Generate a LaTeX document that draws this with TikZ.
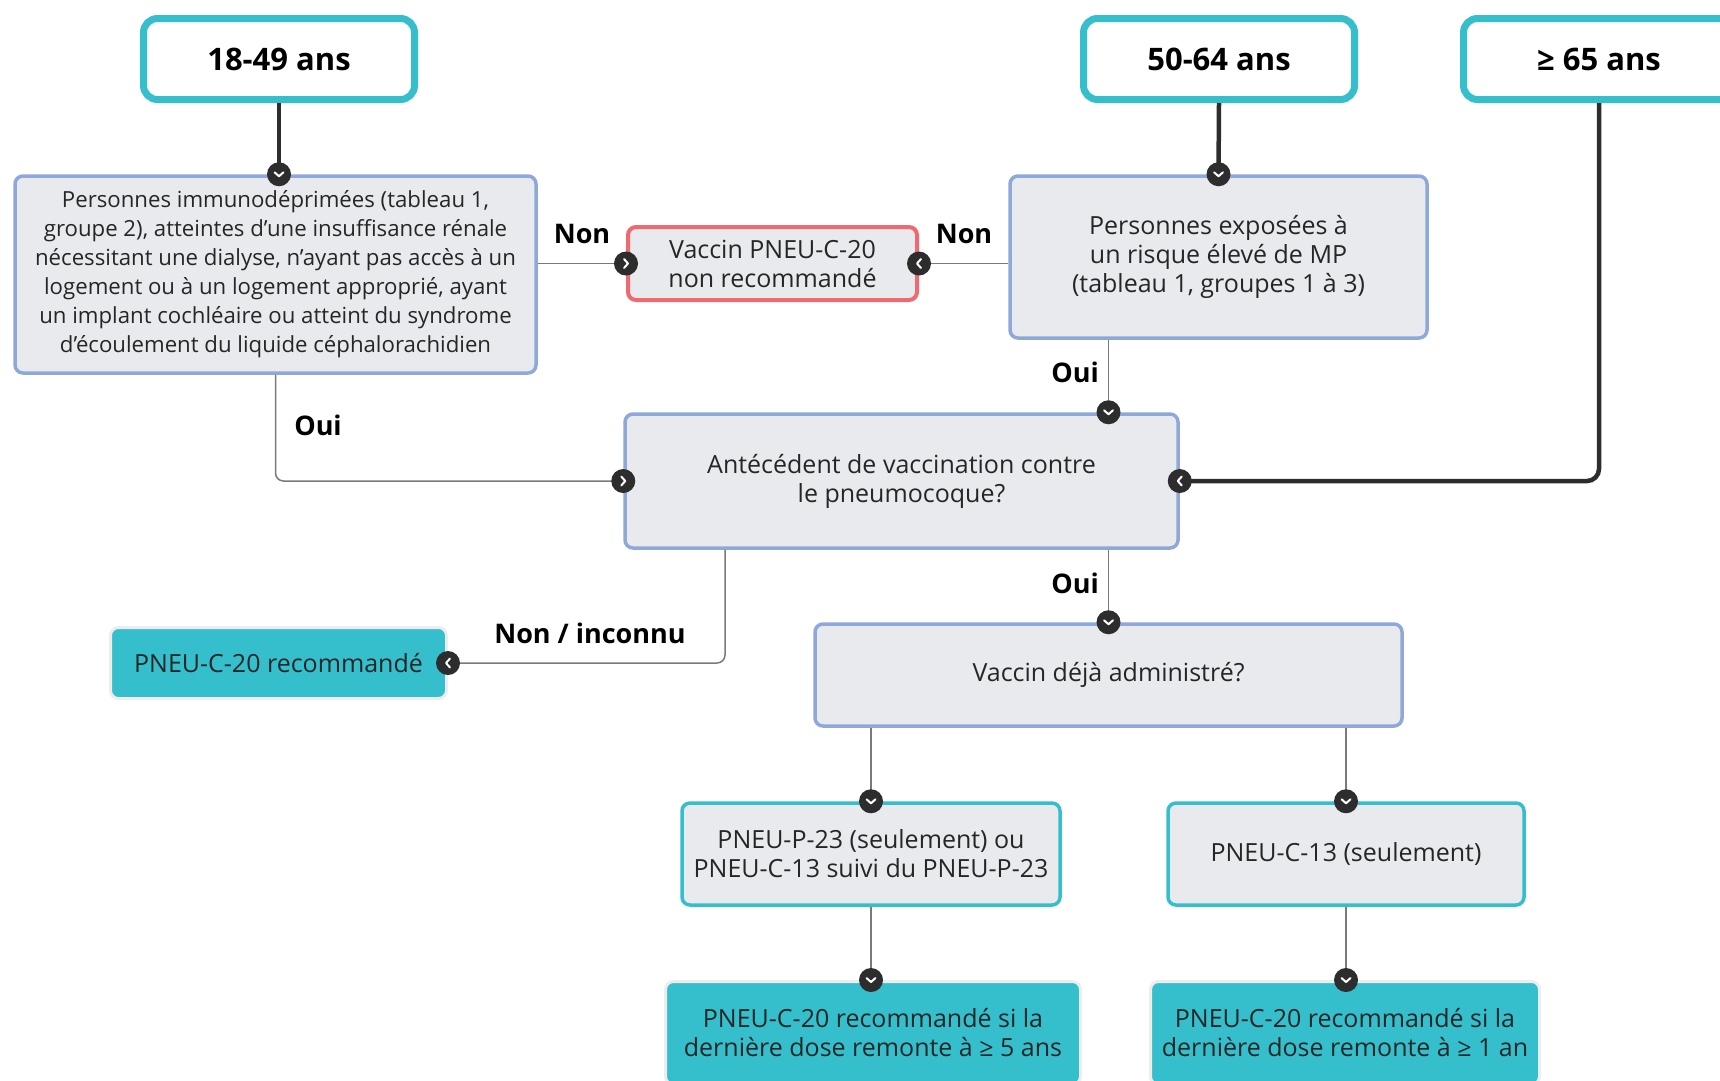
\documentclass[tikz,border=0pt]{standalone}
\usepackage{fontspec}
\setmainfont{Open Sans}
\usepackage{xcolor}
\usepackage{tikz}
\usetikzlibrary{positioning, calc}
\definecolor{agecyan}{HTML}{35BFCC}
\definecolor{boxgray}{HTML}{E9EAED}
\definecolor{boxblue}{HTML}{8FA8DA}
\definecolor{boxred}{HTML}{EE6A70}
\definecolor{knobdark}{HTML}{2D2D2D}
\definecolor{linegray}{HTML}{7A7A7A}
\definecolor{txtdark}{HTML}{262626}

\begin{document}
\begin{tikzpicture}[x=1pt, y=-1pt,
  agebox/.style={draw=agecyan, line width=7pt, fill=white, rounded corners=14pt,
    minimum width=271pt, minimum height=81pt, font=\fontsize{31}{36}\selectfont\bfseries},
  askbox/.style={draw=boxblue, line width=3.5pt, fill=boxgray, rounded corners=8pt,
    text=txtdark, align=center, font=\fontsize{25}{29}\selectfont},
  nobox/.style={askbox, draw=boxred, line width=4pt},
  dosebox/.style={askbox, draw=agecyan, line width=3.5pt},
  okbox/.style={askbox, draw=black!7, fill=agecyan, line width=3pt, text=black!85},
  lbl/.style={font=\fontsize{27}{30}\selectfont\bfseries},
  thickline/.style={draw=knobdark, line width=4.5pt},
  thinline/.style={draw=linegray, line width=1.5pt},
  knob/.pic={\fill[knobdark] (0,0) circle (12pt);
    \draw[white, line width=2pt, line cap=round, line join=round] (-2pt,-4.5pt) -- (2pt,0pt) -- (-2pt,4.5pt);}
]
  \useasboundingbox (0,0) rectangle (1720,1080);

  % age groups
  \node[agebox] (a18) at (279,59) {18-49 ans};
  \node[agebox] (a50) at (1219,59) {50-64 ans};
  \node[agebox] (a65) at (1599,59) {≥ 65 ans};

  % questions
  \node[askbox, minimum width=521pt, minimum height=197pt, font=\fontsize{22.2}{29}\selectfont] (p1) at (275.5,274.5)
    {Personnes immunodéprimées (tableau 1,\\ groupe 2), atteintes d’une insuffisance rénale\\
     nécessitant une dialyse, n’ayant pas accès à un\\ logement ou à un logement approprié, ayant\\
     un implant cochléaire ou atteint du syndrome\\ d’écoulement du liquide céphalorachidien};
  \node[nobox, minimum width=289pt, minimum height=73pt] (red) at (772.5,263.5)
    {Vaccin PNEU-C-20\\ non recommandé};
  \node[askbox, minimum width=417pt, minimum height=162pt] (p2) at (1218.5,257)
    {Personnes exposées à\\ un risque élevé de MP\\ (tableau 1, groupes 1 à 3)};
  \node[askbox, minimum width=553pt, minimum height=134pt] (q1) at (901.5,481)
    {Antécédent de vaccination contre\\ le pneumocoque?};
  \node[okbox, minimum width=336pt, minimum height=71pt] (r1) at (278.5,663)
    {PNEU-C-20 recommandé};
  \node[askbox, minimum width=587pt, minimum height=102pt] (q2) at (1108.5,675)
    {Vaccin déjà administré?};

  % doses
  \node[dosebox, minimum width=378pt, minimum height=102pt] (s1) at (871,854)
    {PNEU-P-23 (seulement) ou\\ PNEU-C-13 suivi du PNEU-P-23};
  \node[dosebox, minimum width=356pt, minimum height=102pt] (s2) at (1346,854)
    {PNEU-C-13 (seulement)};
  \node[okbox, minimum width=415pt, minimum height=103pt] (t1) at (873,1033)
    {PNEU-C-20 recommandé si la\\ dernière dose remonte à ≥ 5 ans};
  \node[okbox, minimum width=389pt, minimum height=103pt] (t2) at (1345,1033)
    {PNEU-C-20 recommandé si la\\ dernière dose remonte à ≥ 1 an};

  \coordinate (q1no) at ([xshift=-176.5pt]q1.south);

  % connectors
  \draw[thickline] (a18.south) -- (a18.south |- p1.north);
  \draw[thickline] (a50.south) -- (p2.north);
  \draw[thickline, rounded corners=12pt] (a65.south) |- (q1.east);
  \draw[thinline] (red.west -| p1.east) -- (red.west);
  \draw[thinline] (red.east -| p2.west) -- (red.east);
  \draw[thinline, rounded corners=8pt] (p1.south) |- (q1.west);
  \draw[thinline] (p2.south -| q2.north) -- (q1.north -| q2.north);
  \draw[thinline] (q1.south -| q2.north) -- (q2.north);
  \draw[thinline, rounded corners=8pt] (q1no) |- (r1.east);
  \draw[thinline] (q2.south -| s1.north) -- (s1.north);
  \draw[thinline] (q2.south -| s2.north) -- (s2.north);
  \draw[thinline] (s1.south) -- (s1.south |- t1.north);
  \draw[thinline] (s2.south) -- (s2.south |- t2.north);

  % labels
  \node[lbl] (non1) at (582,234) {Non};
  \node[lbl] (non2) at (964,234) {Non};
  \node[lbl] (oui1) at (318,425) {Oui};
  \node[lbl] (oui2) at (1075,372) {Oui};
  \node[lbl] (oui3) at (1075,583) {Oui};
  \node[lbl] (noninc) at (590,633) {Non / inconnu};

  % knobs
  \pic[rotate=-90] at (a18.south |- p1.north) {knob};
  \pic[rotate=-90] at (p2.north) {knob};
  \pic[rotate=180] at (q1.east) {knob};
  \pic at (red.west) {knob};
  \pic[rotate=180] at (red.east) {knob};
  \pic[rotate=-90] at (q1.north -| q2.north) {knob};
  \pic at (q1.west) {knob};
  \pic[rotate=180] at (r1.east) {knob};
  \pic[rotate=-90] at (q2.north) {knob};
  \pic[rotate=-90] at (s1.north) {knob};
  \pic[rotate=-90] at (s2.north) {knob};
  \pic[rotate=-90] at (s1.south |- t1.north) {knob};
  \pic[rotate=-90] at (s2.south |- t2.north) {knob};
\end{tikzpicture}
\end{document}
